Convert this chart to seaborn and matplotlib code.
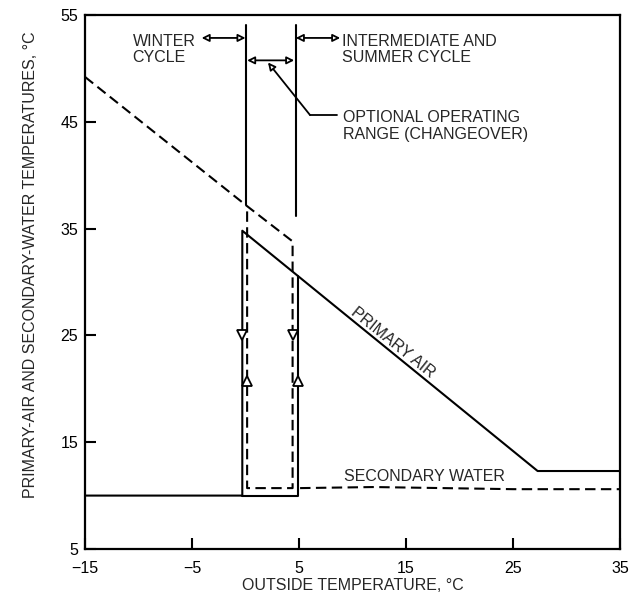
import matplotlib
matplotlib.use("Agg")
import matplotlib.pyplot as plt
import seaborn as sns
import pandas as pd

# ---- data ----
primary_main_x = [-15, -0.3, -0.3, 27.3, 35]
primary_main_y = [10, 10, 34.8, 12.3, 12.3]
primary_box_x = [-0.3, 4.9, 4.9]
primary_box_y = [10, 10, 30.6]

secondary_main_x = [-15, 0.15, 4.4, 4.4, 0.15, 0.15]
secondary_main_y = [49.2, 37.1, 33.8, 10.7, 10.7, 37.1]
secondary_tail_x = [5.1, 12, 25, 35]
secondary_tail_y = [10.7, 10.8, 10.6, 10.6]

xticks = [-15, -5, 5, 15, 25, 35]
yticks = [5, 15, 25, 35, 45, 55]

boundary_x = [0.0, 4.7]
boundary_top = [54.1, 54.1]
boundary_bottom = [37.2, 36.2]

sns.set_style("ticks")
plt.rcParams['font.family'] = ['Liberation Sans', 'DejaVu Sans']

fig = plt.figure(figsize=(6.33, 5.99), dpi=100)
ax = fig.add_axes([0.1343, 0.0835, 0.9795 - 0.1343, 0.975 - 0.0835])

lw = 1.5
def draw(xs, ys, dashed=False):
    df = pd.DataFrame({"x": xs, "y": ys})
    sns.lineplot(data=df, x="x", y="y", sort=False, estimator=None,
                 color="black", lw=lw, ax=ax)
    l = ax.lines[-1]
    if dashed:
        l.set_dashes((5, 2.6))

draw(primary_main_x, primary_main_y)
draw(primary_box_x, primary_box_y)
draw(secondary_main_x, secondary_main_y, dashed=True)
draw(secondary_tail_x, secondary_tail_y, dashed=True)

for bx, t, b in zip(boundary_x, boundary_top, boundary_bottom):
    ax.plot([bx, bx], [b, t], color="black", lw=lw)

# direction markers
mk = dict(ms=7, mfc='white', mec='black', mew=1.3, ls='none')
ax.plot([-0.3], [25.0], marker='v', **mk)
ax.plot([0.15], [20.7], marker='^', **mk)
ax.plot([4.4], [25.0], marker='v', **mk)
ax.plot([4.9], [20.7], marker='^', **mk)

# double arrows
ap = dict(arrowstyle='<|-|>', fc='white', ec='black', lw=1.3,
          mutation_scale=11, shrinkA=0, shrinkB=0)
ax.annotate('', xy=(-4.1, 52.85), xytext=(0.0, 52.85), arrowprops=ap)
ax.annotate('', xy=(0.15, 50.75), xytext=(4.55, 50.75), arrowprops=ap)
ax.annotate('', xy=(4.7, 52.85), xytext=(8.85, 52.85), arrowprops=ap)

# leader
ax.plot([6.03, 8.55], [45.63, 45.63], color='black', lw=1.3)
ax.annotate('', xy=(2.1, 50.55), xytext=(6.03, 45.63),
            arrowprops=dict(arrowstyle='-|>', fc='white', ec='black', lw=1.3,
                            mutation_scale=11, shrinkA=0, shrinkB=0))

fs = 11.5
ls = 1.12
ax.text(-10.54, 51.75, "WINTER\nCYCLE", ha='left', va='center', fontsize=fs, linespacing=ls)
ax.text(8.99, 51.75, "INTERMEDIATE AND\nSUMMER CYCLE", ha='left', va='center', fontsize=fs, linespacing=ls)
ax.text(9.11, 44.6, "OPTIONAL OPERATING\nRANGE (CHANGEOVER)", ha='left', va='center', fontsize=fs, linespacing=ls)
ax.text(13.8, 24.3, "PRIMARY AIR", ha='center', va='center', fontsize=fs, rotation=-38.8)
ax.text(9.2, 11.8, "SECONDARY WATER", ha='left', va='center', fontsize=fs)

ax.set_xlim(-15, 35)
ax.set_ylim(5, 55)
ax.set_xticks(xticks)
ax.set_xticklabels(["\u221215" if v == -15 else ("\u22125" if v == -5 else str(v)) for v in xticks])
ax.set_yticks(yticks)
ax.tick_params(direction='in', length=8, width=1.5, labelsize=fs, colors='black')
ax.tick_params(axis='x', pad=9)
ax.tick_params(axis='y', pad=5)
for s in ax.spines.values():
    s.set_linewidth(1.6)
    s.set_color('black')
ax.set_xlabel("OUTSIDE TEMPERATURE, °C", fontsize=fs, labelpad=1)
ax.set_ylabel("PRIMARY-AIR AND SECONDARY-WATER TEMPERATURES, °C", fontsize=fs)
ax.yaxis.set_label_coords(-0.088, 0.532)

fig.savefig("out.png", dpi=100)
